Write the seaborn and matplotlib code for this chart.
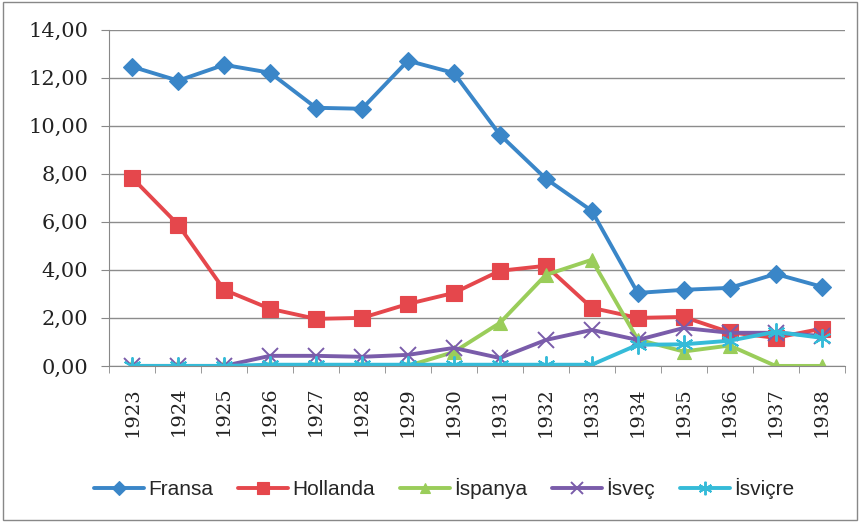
import matplotlib
matplotlib.use("Agg")
import matplotlib.pyplot as plt
import seaborn as sns
import pandas as pd
from matplotlib.ticker import FuncFormatter, FixedLocator

years = [str(y) for y in range(1923, 1939)]
fransa   = [12.46, 11.88, 12.54, 12.21, 10.75, 10.71, 12.71, 12.20, 9.63, 7.80, 6.46, 3.04, 3.17, 3.25, 3.83, 3.30]
hollanda = [7.83, 5.88, 3.17, 2.38, 1.96, 2.00, 2.58, 3.04, 3.96, 4.17, 2.42, 2.00, 2.04, 1.40, 1.17, 1.55]
ispanya  = [0.00, 0.00, 0.00, 0.00, 0.00, 0.00, 0.00, 0.58, 1.79, 3.79, 4.42, 1.10, 0.60, 0.85, 0.00, 0.00]
isvec    = [0.00, 0.00, 0.00, 0.42, 0.42, 0.38, 0.46, 0.75, 0.33, 1.08, 1.50, 1.08, 1.58, 1.38, 1.38, 1.25]
isvicre  = [0.00, 0.00, 0.00, 0.05, 0.05, 0.05, 0.05, 0.05, 0.05, 0.05, 0.05, 0.88, 0.90, 1.05, 1.42, 1.17]

names = ["Fransa", "Hollanda", "İspanya", "İsveç", "İsviçre"]
series = [fransa, hollanda, ispanya, isvec, isvicre]
colors = ["#3A86C8", "#E5474C", "#9ACD5A", "#7A5CAA", "#35BBD8"]
markers = ["D", "s", "^", "x", (6, 2, 0)]
msizes = [9, 12, 10, 11, 13]

rows = []
for n, s in zip(names, series):
    for i, v in enumerate(s):
        rows.append({"pos": i, "val": v, "seri": n})
df = pd.DataFrame(rows)

sns.set_style("white")
plt.rcParams["font.family"] = ["Liberation Sans", "DejaVu Sans"]

fig = plt.figure(figsize=(8.6, 5.22), dpi=100)
ax = fig.add_axes([0.127, 0.299, 0.855, 0.644])

for n, c, m, ms in zip(names, colors, markers, msizes):
    sub = df[df["seri"] == n]
    thin = not isinstance(m, str) or m == "x"
    sns.lineplot(data=sub, x="pos", y="val", ax=ax, color=c, linewidth=2.8,
                 marker=m, markersize=ms, markeredgecolor=c,
                 markeredgewidth=1.4 if thin else 0.8, label=n)

ax.set_xlim(-0.5, len(years) - 0.5)
ax.set_ylim(0, 14)
ax.set_yticks([0, 2, 4, 6, 8, 10, 12, 14])
ax.yaxis.set_major_formatter(FuncFormatter(lambda v, p: f"{v:.2f}".replace(".", ",")))
ax.set_xticks(range(len(years)))
ax.set_xticklabels(years, rotation=90)
ax.xaxis.set_minor_locator(FixedLocator([i - 0.5 for i in range(len(years) + 1)]))
ax.tick_params(axis="x", which="major", length=0, pad=15, labelsize=14, colors="#222222")
ax.tick_params(axis="x", which="minor", length=5, color="#888888", bottom=True)
ax.tick_params(axis="y", length=6, color="#888888", left=True, labelsize=15, colors="#222222", pad=9)
for lab in ax.get_xticklabels() + ax.get_yticklabels():
    lab.set_fontfamily(["DejaVu Serif"])
ax.set_xlabel("")
ax.set_ylabel("")
ax.grid(axis="y", color="#8c8c8c", linewidth=1)
ax.set_axisbelow(True)
for s in ["top", "right"]:
    ax.spines[s].set_visible(False)
ax.spines["left"].set_color("#888888")
ax.spines["bottom"].set_color("#888888")

ax.legend(loc="center", bbox_to_anchor=(0.455, -0.365), ncol=5, frameon=False,
          fontsize=15, handlelength=2.4, columnspacing=1.2, handletextpad=0.2,
          markerscale=0.75)

border = plt.Rectangle((0.003, 0.003), 0.994, 0.994, transform=fig.transFigure,
                       fill=False, edgecolor="#888888", linewidth=1)
fig.patches.append(border)

fig.savefig("out.png", dpi=100)
